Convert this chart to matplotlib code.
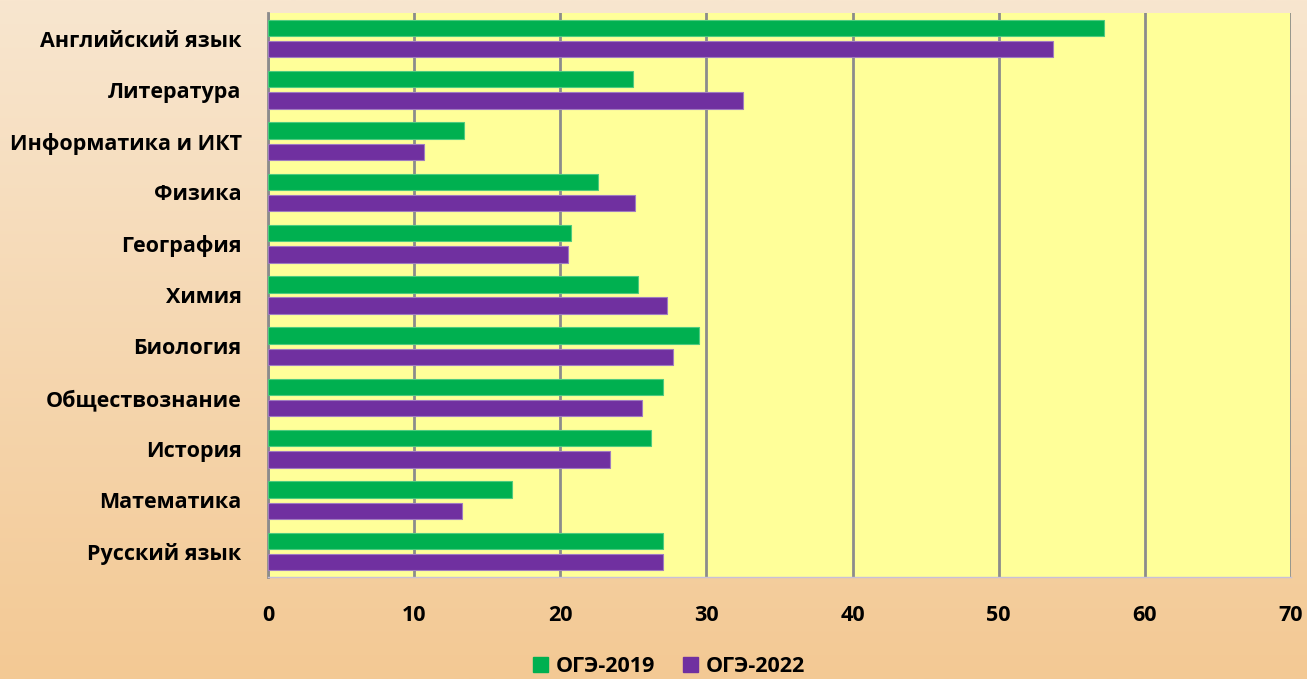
import numpy as np
import matplotlib.pyplot as plt
from matplotlib.colors import LinearSegmentedColormap
from matplotlib.patches import Patch

plt.rcParams['font.family'] = ['Open Sans', 'DejaVu Sans']
plt.rcParams['font.weight'] = 'bold'

# subjects, top to bottom
subjects = ["Английский язык", "Литература", "Информатика и ИКТ", "Физика",
            "География", "Химия", "Биология", "Обществознание", "История",
            "Математика", "Русский язык"]
oge_2019 = [57.2, 25.0, 13.4, 22.6, 20.7, 25.3, 29.5, 27.0, 26.2, 16.7, 27.0]
oge_2022 = [53.7, 32.5, 10.7, 25.1, 20.5, 27.3, 27.7, 25.6, 23.4, 13.3, 27.0]
x_ticks = [0, 10, 20, 30, 40, 50, 60, 70]

green = "#00B050"
purple = "#7030A0"
fsize = 15.5

fig = plt.figure(figsize=(13.07, 6.79), dpi=100)

# peach-to-orange background
bg = fig.add_axes([0, 0, 1, 1], zorder=-10)
cmap = LinearSegmentedColormap.from_list("bg", ["#F8E6CF", "#F3C994"])
bg.imshow(np.linspace(0, 1, 256).reshape(-1, 1), aspect="auto", cmap=cmap,
          extent=[0, 1, 0, 1])
bg.axis("off")

ax = fig.add_axes([268 / 1307, 1 - 577 / 679, (1291 - 268) / 1307, (577 - 13) / 679])
ax.set_facecolor("#FFFF99")

y = np.arange(len(subjects))
off = 0.2075
h = 0.32
ax.barh(y - off, oge_2019, height=h, color=green, edgecolor="#4FCB7F",
        linewidth=0.8, label="ОГЭ-2019", zorder=3)
ax.barh(y + off, oge_2022, height=h, color=purple, edgecolor="#A07CC0",
        linewidth=0.8, label="ОГЭ-2022", zorder=3)

ax.set_ylim(len(subjects) - 0.5, -0.5)
ax.set_xlim(0, 70)
ax.set_xticks(x_ticks)
ax.set_yticks(y)
ax.set_yticklabels(subjects, fontsize=fsize, fontweight="bold")
ax.tick_params(axis="y", length=0, pad=19)
ax.tick_params(axis="x", length=0, pad=20, labelsize=fsize)

ax.grid(axis="x", color="#8C8C8C", linewidth=2, zorder=1)
for s in ["top", "right"]:
    ax.spines[s].set_visible(False)
ax.spines["left"].set_color("#8C8C8C")
ax.spines["left"].set_linewidth(2)
ax.spines["bottom"].set_color("#C8C0D8")
ax.spines["bottom"].set_linewidth(1)

handles = [Patch(color=green, label="ОГЭ-2019"), Patch(color=purple, label="ОГЭ-2022")]
fig.legend(handles=handles, loc="center", bbox_to_anchor=(0.512, 0.018),
           ncol=2, frameon=False, fontsize=fsize, handlelength=0.7,
           handleheight=0.7, handletextpad=0.35, columnspacing=1.3)

fig.savefig("out.png", dpi=100)
